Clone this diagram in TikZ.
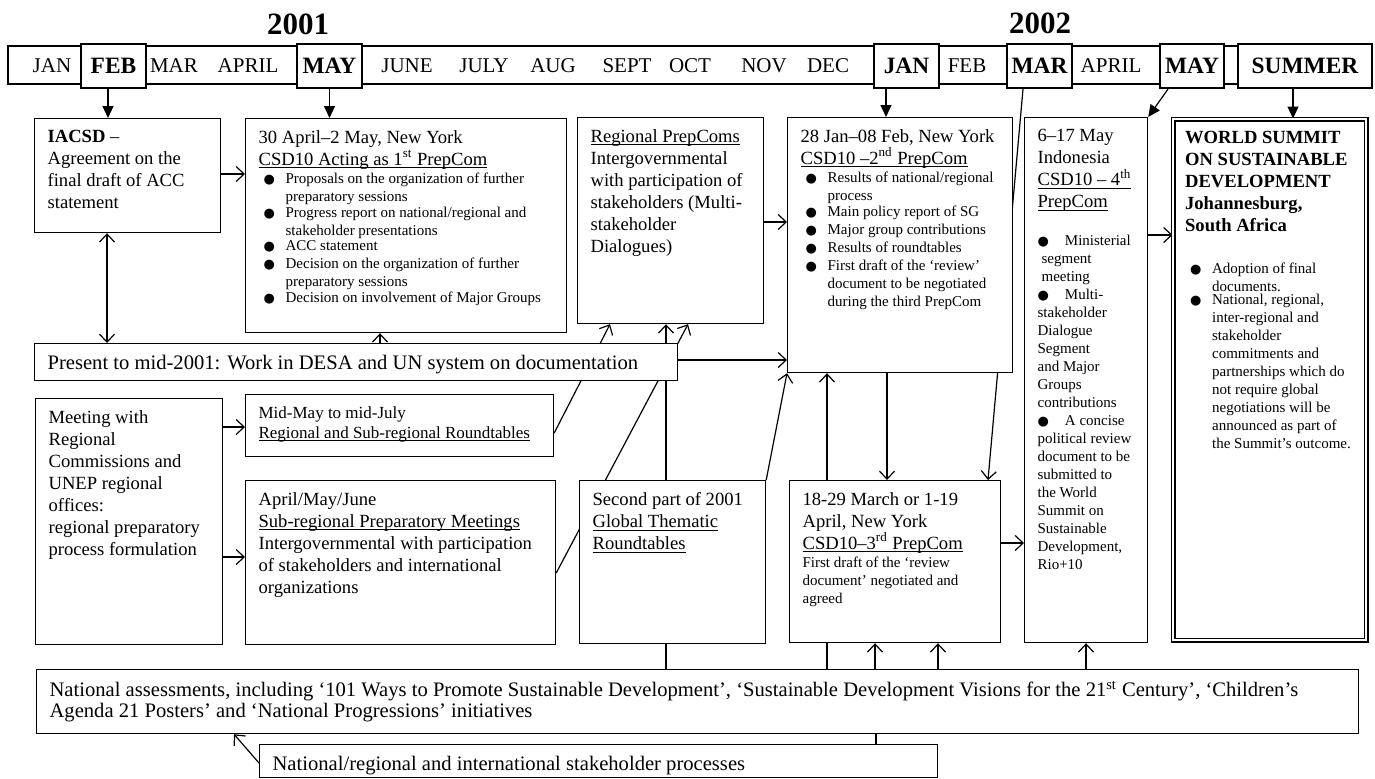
\documentclass[tikz,border=0pt]{standalone}
\usepackage{fontspec}
\setmainfont{Liberation Serif}
\newfontfamily\symfont{DejaVu Sans}
\usepackage{tikz}
\usetikzlibrary{arrows.meta}
\pgfdeclarelayer{bg}
\pgfsetlayers{bg,main}
\newcommand{\Main}{\fontsize{9.3}{11}\selectfont}
\newcommand{\Small}{\fontsize{7.5}{9}\selectfont}
\newcommand{\Dot}{{\symfont\fontsize{6.5}{6}\selectfont ●}}
\newcommand{\Ul}[1]{\leavevmode\setbox0\hbox{#1}\rlap{\rule[-1.4pt]{\wd0}{.5pt}}\box0}
\newcommand{\Cell}[3]{\parbox[t][#2][t]{#1}{\vspace*{2pt}\raggedright#3}}
\newcommand{\Bul}[1]{\par\noindent\hspace*{2.5pt}\makebox[11pt][l]{\Dot}%
  \parbox[t]{\dimexpr\linewidth-13.5pt\relax}{\raggedright#1}}
\tikzstyle{Box}=[draw,line width=.6pt,fill=white,anchor=north west,
  inner xsep=6.5pt,inner ysep=4pt]
\tikzstyle{BoxD}=[Box,double,double distance=1.3pt,inner xsep=6pt]
\tikzstyle{Bar}=[draw,line width=.6pt,minimum width=682pt,minimum height=19pt,inner sep=0pt]
\tikzstyle{Month}=[inner sep=0pt,font=\fontsize{10.5}{12}\selectfont]
\tikzstyle{MonthB}=[draw,line width=1.1pt,fill=white,minimum height=22pt,
  minimum width=32.5pt,inner sep=0pt,font=\bfseries\fontsize{11.7}{13}\selectfont]
\tikzstyle{Year}=[font=\bfseries\fontsize{15.5}{17}\selectfont]
\tikzstyle{Edge}=[draw,line width=.6pt]
\tikzstyle{Arr}=[Edge,-{Straight Barb[length=4pt,width=7.5pt]}]
\tikzstyle{ArrB}=[Edge,{Straight Barb[length=4pt,width=7.5pt]}-{Straight Barb[length=4pt,width=7.5pt]}]
\tikzstyle{Down}=[Edge,-{Triangle[length=6pt,width=5.5pt]}]

\begin{document}
\begin{tikzpicture}[x=.5pt,y=-.5pt]
        \useasboundingbox (0,0) rectangle (1375,778);
        % time line
        \node[Year](y1)at(298,24){2001};
        \node[Year](y2)at(1040,23){2002};
        \node[Bar](bar)at(690,65){};
        \node[Month](jan)at(52,66){JAN};
        \node[MonthB](feb)at(113.5,66){FEB};
        \node[Month](mar)at(174,66){MAR};
        \node[Month](apr)at(248,66){APRIL};
        \node[MonthB](may)at(329.5,66){MAY};
        \node[Month](jun)at(407,66){JUNE};
        \node[Month](jul)at(484,66){JULY};
        \node[Month](aug)at(553,66){AUG};
        \node[Month](sep)at(627,66){SEPT};
        \node[Month](oct)at(690,66){OCT};
        \node[Month](nov)at(764,66){NOV};
        \node[Month](dec)at(828,66){DEC};
        \node[MonthB](jan2)at(906.5,66){JAN};
        \node[Month](feb2)at(967,66){FEB};
        \node[MonthB](mar2)at(1039.5,66){MAR};
        \node[Month](apr2)at(1111,66){APRIL};
        \node[MonthB,minimum width=32pt](may2)at(1192,66){MAY};
        \node[MonthB,minimum width=67pt](summer)at(1305,66){SUMMER};
        % top row
        \node[Box](iacsd)at(34,118){\Cell{80pt}{49pt}{\Main\textbf{IACSD} –\\
            Agreement on the\\final draft of ACC\\statement}};
        \node[Box](csd1)at(245,118){\Cell{147.5pt}{99pt}{\Main 30 April–2 May, New York\\
            \Ul{CSD10 Acting as 1\textsuperscript{st} PrepCom}\par\Small
            \Bul{Proposals on the organization of further\\preparatory sessions}
            \Bul{Progress report on national/regional and\\stakeholder presentations}
            \Bul{ACC statement}
            \Bul{Decision on the organization of further\\preparatory sessions}
            \Bul{Decision on involvement of Major Groups}}};
        \node[Box](regprep)at(577,117){\Cell{80pt}{95pt}{\Main\Ul{Regional PrepComs}\\
            Intergovernmental\\with participation of\\stakeholders (Multi-\\stakeholder\\Dialogues)}};
        \node[Box](csd2)at(787,117){\Cell{99.5pt}{119.5pt}{\Main 28 Jan–08 Feb, New York\\
            \Ul{CSD10 –2\textsuperscript{nd} PrepCom}\par\Small
            \Bul{Results of national/regional\\process}
            \Bul{Main policy report of SG}
            \Bul{Major group contributions}
            \Bul{Results of roundtables}
            \Bul{First draft of the ‘review’\\document to be negotiated\\during the third PrepCom}}};
        \node[Box](csd4)at(1024,117){\Cell{48.5pt}{254.5pt}{\Main 6–17 May\\Indonesia\\
            \Ul{CSD10 – 4\textsuperscript{th}}\\\Ul{PrepCom}\par\vspace{10pt}\Small
            \Dot\hspace{8pt}Ministerial\\\hspace*{2pt}segment\\\hspace*{2pt}meeting\\
            \Dot\hspace{8pt}Multi-\\stakeholder\\Dialogue\\Segment\\and Major\\Groups\\
            contributions\\\Dot\hspace{8pt}A concise\\political review\\document to be\\
            submitted to\\the World\\Summit on\\Sustainable\\Development,\\Rio+10}};
        \node[BoxD](wssd)at(1172.5,118.5){\Cell{84.5pt}{252.5pt}{{\Main\bfseries WORLD SUMMIT\\
            ON SUSTAINABLE\\DEVELOPMENT\\Johannesburg,\\South Africa\par}\vspace{12pt}\Small
            \Bul{Adoption of final\\documents.}
            \Bul{National, regional,\\inter-regional and\\stakeholder\\commitments and\\
            partnerships which do\\not require global\\negotiations will be\\announced as part of\\
            the Summit’s outcome.}}};
        \node[Box](present)at(34,343){\Cell{308.5pt}{10.5pt}{\fontsize{10.3}{12}\selectfont
            Present to mid-2001: Work in DESA and UN system on documentation}};
        % lower row
        \node[Box](meeting)at(35,398){\Cell{80.5pt}{115pt}{\Main Meeting with\\Regional\\
            Commissions and\\UNEP regional\\offices:\\regional preparatory\\process formulation}};
        \node[Box](midmay)at(245,394){\Cell{141pt}{23pt}{\fontsize{8.5}{10}\selectfont
            Mid-May to mid-July\\\Ul{Regional and Sub-regional Roundtables}}};
        \node[Box](amj)at(245,480){\Cell{142pt}{74pt}{\Main April/May/June\\
            \Ul{Sub-regional Preparatory Meetings}\\Intergovernmental with participation\\
            of stakeholders and international\\organizations}};
        \node[Box](second)at(579,480){\Cell{80pt}{73.5pt}{\Main Second part of 2001\\
            \Ul{Global Thematic}\\\Ul{Roundtables}}};
        \node[Box](csd3)at(789,480){\Cell{92.5pt}{73pt}{\Main 18-29 March or 1-19\\April, New York\\
            \Ul{CSD10–3\textsuperscript{rd} PrepCom}\par\Small
            First draft of the ‘review\\document’ negotiated and\\agreed}};
        \node[Box](natass)at(36,669){\Cell{648pt}{24pt}{\fontsize{10.3}{10.5}\selectfont
            National assessments, including ‘101 Ways to Promote Sustainable Development’,
            ‘Sustainable Development Visions for the 21\textsuperscript{st} Century’, ‘Children’s\\
            Agenda 21 Posters’ and ‘National Progressions’ initiatives}};
        \node[Box](natreg)at(259,744){\Cell{326pt}{8.5pt}{\fontsize{10.3}{12}\selectfont
            National/regional and international stakeholder processes}};
        % connectors
        \begin{pgfonlayer}{bg}
        \draw[Down](108,0 |- feb.south)--(108,0 |- iacsd.north);
        \draw[Down](may.south)--(may.south |- csd1.north);
        \draw[Down](886,0 |- jan2.south)--(886,0 |- csd2.north);
        \draw[Arr](1023,0 |- mar2.south)--(988,0 |- csd3.north);
        \draw[Down](1168,0 |- may2.south)--(csd4.north east);
        \draw[Down](1293,0 |- summer.south)--(1293,0 |- wssd.north);
        \draw[Arr](iacsd.east |- 0,174)--(csd1.west |- 0,174);
        \draw[ArrB](107,0 |- iacsd.south)--(107,0 |- present.north);
        \draw[Arr](380,0 |- present.north)--(380,0 |- csd1.south);
        \draw[Arr](regprep.east |- 0,222)--(csd2.west |- 0,222);
        \draw[Arr](present.east |- 0,360)--(csd2.west |- 0,360);
        \draw[Arr](meeting.east |- 0,427)--(midmay.west |- 0,427);
        \draw[Arr](meeting.east |- 0,557)--(amj.west |- 0,557);
        \draw[Arr](midmay.east |- 0,433)--(610,0 |- regprep.south);
        \draw[Arr](amj.east |- 0,573)--(688,0 |- regprep.south);
        \draw[Arr](666,0 |- natass.north)--(666,0 |- regprep.south);
        \draw[Arr](second.north east)--(csd2.south west);
        \draw[Arr](827,0 |- natass.north)--(827,0 |- csd2.south);
        \draw[Arr](887,0 |- csd2.south)--(887,0 |- csd3.north);
        \draw[Arr](875,0 |- natass.north)--(875,0 |- csd3.south);
        \draw[Arr](938,0 |- natass.north)--(938,0 |- csd3.south);
        \draw[Arr](1086,0 |- natass.north)--(1086,0 |- csd4.south);
        \draw[Arr](csd3.east |- 0,543)--(csd4.west |- 0,543);
        \draw[Arr](csd4.east |- 0,235)--(wssd.west |- 0,235);
        \draw[Edge](876,0 |- natass.south)--(876,0 |- natreg.north);
        \draw[Arr](natreg.west |- 0,763)--(234,0 |- natass.south);
        \end{pgfonlayer}
\end{tikzpicture}
\end{document}
